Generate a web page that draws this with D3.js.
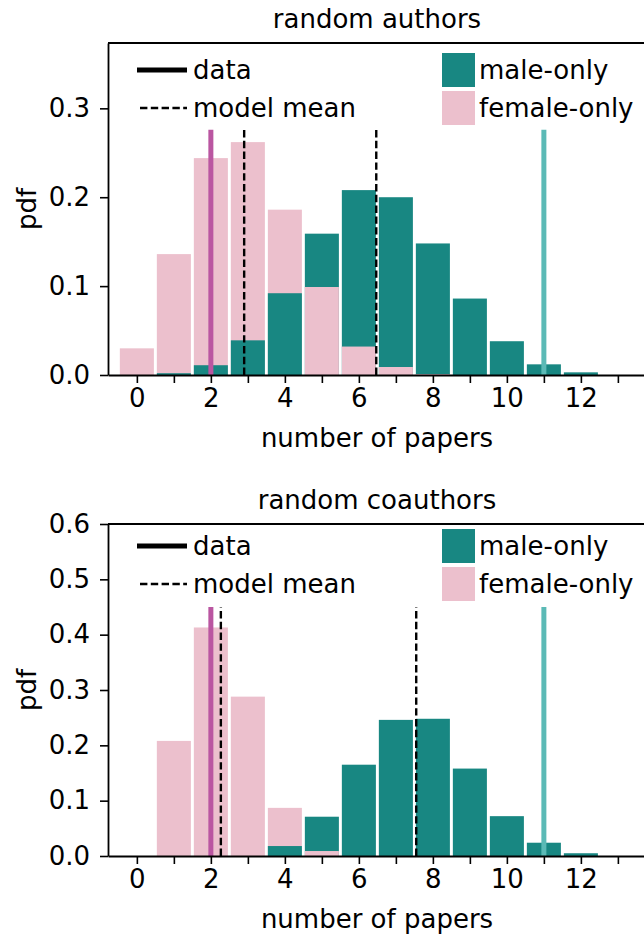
<!DOCTYPE html>
<html>
<head>
<meta charset="utf-8">
<script src="https://cdn.jsdelivr.net/npm/d3@7"></script>
<style>
  body { margin: 0; background: #fff; }
  text { font-family: "DejaVu Sans", sans-serif; }
</style>
</head>
<body>
<script>
// number of papers (bin centres)
const papers = [0, 1, 2, 3, 4, 5, 6, 7, 8, 9, 10, 11, 12]

// random authors
const authorsMale = [0, 0.002, 0.011, 0.039, 0.092, 0.159, 0.208, 0.200, 0.148, 0.086, 0.038, 0.012, 0.003]
const authorsFemale = [0.030, 0.136, 0.244, 0.262, 0.186, 0.099, 0.032, 0.009, 0.001, 0, 0, 0, 0]
const authorsData = [2, 11]        // female, male
const authorsMean = [2.9, 6.47]    // female, male
const authorsLineTop = 0.276
const authorsYTicks = [0, 0.1, 0.2, 0.3]

// random coauthors
const coauthorsMale = [0, 0, 0, 0, 0.018, 0.071, 0.165, 0.246, 0.248, 0.158, 0.072, 0.024, 0.005]
const coauthorsFemale = [0, 0.208, 0.413, 0.288, 0.087, 0.009, 0, 0, 0, 0, 0, 0, 0]
const coauthorsData = [2, 11]
const coauthorsMean = [2.27, 7.55]
const coauthorsLineTop = 0.45
const coauthorsYTicks = [0, 0.1, 0.2, 0.3, 0.4, 0.5, 0.6]

const xTicks = d3.range(0, 14)
const legendLabels = ['data', 'model mean', 'male-only', 'female-only']

const W = 644
const H = 935
const teal = '#188782'
const pink = '#ecc0cd'
const dataColors = ['#ba56a1', '#5bbab6']
const fontSize = 26

const svg = d3.select('body')
  .append('svg')
  .attr('width', W)
  .attr('height', H)

const x = d3.scaleLinear()
  .domain([-0.78, 13.76])
  .range([108, 646])

const drawPanel = (p) => {
  const y = d3.scaleLinear()
    .domain(p.yDomain)
    .range([p.bottom, p.top])

  const g = svg.append('g')

  // bars, taller one first so the shorter stays in front
  let rows = []
  papers.forEach((n, i) => {
    rows.push({ n: n, v: p.male[i], c: teal })
    rows.push({ n: n, v: p.female[i], c: pink })
  })
  rows = rows.filter(d => d.v > 0).sort((a, b) => b.v - a.v)

  g.selectAll('rect.bar')
    .data(rows)
    .enter()
    .append('rect')
    .attr('class', 'bar')
    .attr('x', d => x(d.n - 0.46))
    .attr('width', x(0.92) - x(0))
    .attr('y', d => y(d.v))
    .attr('height', d => y(0) - y(d.v))
    .attr('fill', d => d.c)

  // observed data lines
  g.selectAll('line.data')
    .data(p.data)
    .enter()
    .append('line')
    .attr('x1', d => x(d))
    .attr('x2', d => x(d))
    .attr('y1', y(0))
    .attr('y2', y(p.lineTop))
    .attr('stroke', (d, i) => dataColors[i])
    .attr('stroke-width', 5)

  // model mean lines
  g.selectAll('line.mean')
    .data(p.mean)
    .enter()
    .append('line')
    .attr('x1', d => x(d))
    .attr('x2', d => x(d))
    .attr('y1', y(0))
    .attr('y2', y(p.lineTop))
    .attr('stroke', '#000')
    .attr('stroke-width', 2.4)
    .attr('stroke-dasharray', '7.4,3.4')

  // axes
  const xAxis = g.append('g')
    .attr('transform', `translate(0,${p.bottom})`)
    .call(d3.axisBottom(x)
      .tickValues(xTicks)
      .tickSize(8)
      .tickSizeOuter(0)
      .tickPadding(6)
      .tickFormat(d => d % 2 === 0 && d <= 12 ? d : ''))

  const yAxis = g.append('g')
    .attr('transform', `translate(${x.range()[0]},0)`)
    .call(d3.axisLeft(y)
      .tickValues(p.yTicks)
      .tickSize(8)
      .tickSizeOuter(0)
      .tickPadding(10)
      .tickFormat(d3.format('.1f')))

  ;[xAxis, yAxis].forEach(a => {
    a.selectAll('text')
      .style('font-size', fontSize + 'px')
      .attr('fill', '#000')
    a.selectAll('line').attr('stroke', '#000').attr('stroke-width', 1.6)
    a.select('.domain').attr('stroke', '#000').attr('stroke-width', 1.8)
  })

  // top and right spines
  g.append('line')
    .attr('x1', x.range()[0]).attr('x2', x.range()[1])
    .attr('y1', p.top).attr('y2', p.top)
    .attr('stroke', '#000').attr('stroke-width', 1.8)
  g.append('line')
    .attr('x1', x.range()[1]).attr('x2', x.range()[1])
    .attr('y1', p.top).attr('y2', p.bottom)
    .attr('stroke', '#000').attr('stroke-width', 1.8)

  // titles and labels
  g.append('text')
    .attr('x', 377)
    .attr('y', p.top - 15)
    .attr('text-anchor', 'middle')
    .style('font-size', fontSize + 'px')
    .text(p.title)

  g.append('text')
    .attr('x', 377)
    .attr('y', p.bottom + 72)
    .attr('text-anchor', 'middle')
    .style('font-size', fontSize + 'px')
    .text('number of papers')

  g.append('text')
    .attr('transform', `translate(36,${(p.top + p.bottom) / 2}) rotate(-90)`)
    .attr('text-anchor', 'middle')
    .style('font-size', fontSize + 'px')
    .text('pdf')

  // legend
  const row1 = p.legendRows[0]
  const row2 = p.legendRows[1]
  const leg = g.append('g')
  leg.append('line')
    .attr('x1', 137).attr('x2', 187)
    .attr('y1', row1).attr('y2', row1)
    .attr('stroke', '#000').attr('stroke-width', 5)
  leg.append('line')
    .attr('x1', 140).attr('x2', 187)
    .attr('y1', row2).attr('y2', row2)
    .attr('stroke', '#000').attr('stroke-width', 2.4)
    .attr('stroke-dasharray', '7.4,3.4')
  leg.append('rect')
    .attr('x', 442).attr('y', row1 - 17)
    .attr('width', 33).attr('height', 34)
    .attr('fill', teal)
  leg.append('rect')
    .attr('x', 442).attr('y', row2 - 17)
    .attr('width', 33).attr('height', 34)
    .attr('fill', pink)
  const legPos = [[193, row1], [193, row2], [479, row1], [479, row2]]
  leg.selectAll('text')
    .data(legendLabels)
    .enter()
    .append('text')
    .attr('x', (d, i) => legPos[i][0])
    .attr('y', (d, i) => legPos[i][1])
    .attr('dy', '0.35em')
    .style('font-size', fontSize + 'px')
    .text(d => d)
}

drawPanel({
  title: 'random authors',
  top: 43,
  bottom: 375,
  yDomain: [0, 0.3735],
  yTicks: authorsYTicks,
  male: authorsMale,
  female: authorsFemale,
  data: authorsData,
  mean: authorsMean,
  lineTop: authorsLineTop,
  legendRows: [70, 108]
})

drawPanel({
  title: 'random coauthors',
  top: 524,
  bottom: 856,
  yDomain: [0, 0.6],
  yTicks: coauthorsYTicks,
  male: coauthorsMale,
  female: coauthorsFemale,
  data: coauthorsData,
  mean: coauthorsMean,
  lineTop: coauthorsLineTop,
  legendRows: [546, 584]
})
</script>
</body>
</html>
